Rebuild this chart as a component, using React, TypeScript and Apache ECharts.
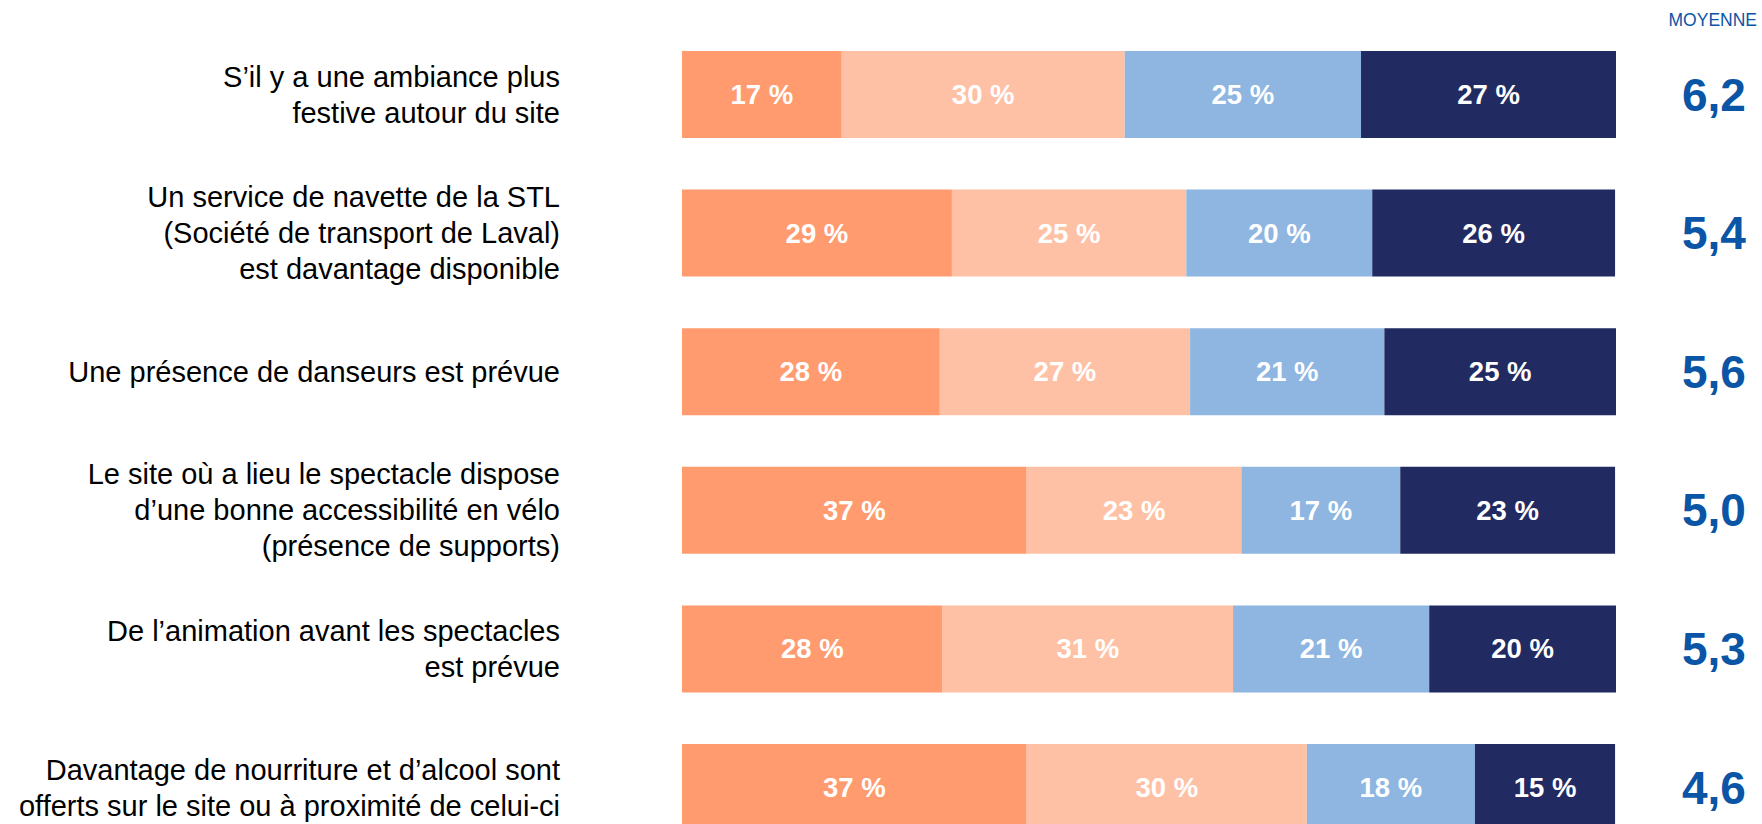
import React, { useEffect, useRef } from "react";
import * as echarts from "echarts";

const CATEGORIES = [
  "S’il y a une ambiance plus\nfestive autour du site",
  "Un service de navette de la STL\n(Société de transport de Laval)\nest davantage disponible",
  "Une présence de danseurs est prévue",
  "Le site où a lieu le spectacle dispose\nd’une bonne accessibilité en vélo\n(présence de supports)",
  "De l’animation avant les spectacles\nest prévue",
  "Davantage de nourriture et d’alcool sont\nofferts sur le site ou à proximité de celui-ci",
];

// Shares (%); labels show them rounded
const SEG1 = [17.1, 28.9, 27.6, 36.9, 27.9, 36.9];
const SEG2 = [30.3, 25.1, 26.8, 23.0, 31.1, 30.0];
const SEG3 = [25.3, 19.9, 20.8, 17.0, 21.0, 18.0];
const SEG4 = [27.3, 26.0, 24.8, 23.0, 20.0, 15.0];
const SERIES_NAMES = ["Segment 1", "Segment 2", "Segment 3", "Segment 4"];
const MEANS = [6.2, 5.4, 5.6, 5.0, 5.3, 4.6];
const MEAN_TITLE = "MOYENNE";

const COLORS = ["#FF9B6E", "#FFC1A5", "#8EB6E0", "#212B62"];
const MEAN_COLOR = "#0A55A5";
const FONT = "'Liberation Sans', Arial, sans-serif";

export default function App() {
  const ref = useRef<HTMLDivElement>(null);

  useEffect(() => {
    if (!ref.current) return;
    const chart = echarts.init(ref.current, undefined, { renderer: "svg" });
    const segs = [SEG1, SEG2, SEG3, SEG4];
    chart.setOption({
      animation: false,
      textStyle: { fontFamily: FONT },
      grid: { left: 682, right: 146, top: 25.2, height: 831.6, containLabel: false },
      xAxis: { type: "value", min: 0, max: 100, show: false },
      yAxis: [
        {
          type: "category",
          inverse: true,
          data: CATEGORIES,
          axisLine: { show: false },
          axisTick: { show: false },
          splitLine: { show: false },
          axisLabel: {
            margin: 122,
            fontSize: 29,
            lineHeight: 36,
            color: "#000000",
            fontFamily: FONT,
            align: "right",
          },
        },
        {
          type: "category",
          inverse: true,
          position: "right",
          data: CATEGORIES,
          axisLine: { show: false },
          axisTick: { show: false },
          splitLine: { show: false },
          axisLabel: {
            margin: 66,
            fontSize: 46,
            fontWeight: "bold",
            color: MEAN_COLOR,
            fontFamily: FONT,
            align: "left",
            formatter: (_v: string, i: number) => MEANS[i].toFixed(1).replace(".", ","),
          },
        },
      ],
      graphic: [
        {
          type: "text",
          right: 5,
          top: 11,
          style: {
            text: MEAN_TITLE,
            font: `17.5px ${FONT}`,
            fill: MEAN_COLOR,
          },
        },
      ],
      series: segs.map((d, k) => ({
        name: SERIES_NAMES[k],
        type: "bar",
        stack: "total",
        yAxisIndex: 0,
        barWidth: 87,
        data: d,
        itemStyle: { color: COLORS[k] },
        label: {
          show: true,
          position: "inside",
          color: "#ffffff",
          fontSize: 27.5,
          fontWeight: "bold",
          fontFamily: FONT,
          formatter: (p: any) => `${Math.round(p.value)} %`,
        },
      })),
    });
    return () => chart.dispose();
  }, []);

  return (
    <div
      ref={ref}
      style={{ position: "fixed", left: 0, top: 0, width: 1762, height: 860, background: "#ffffff" }}
    />
  );
}
